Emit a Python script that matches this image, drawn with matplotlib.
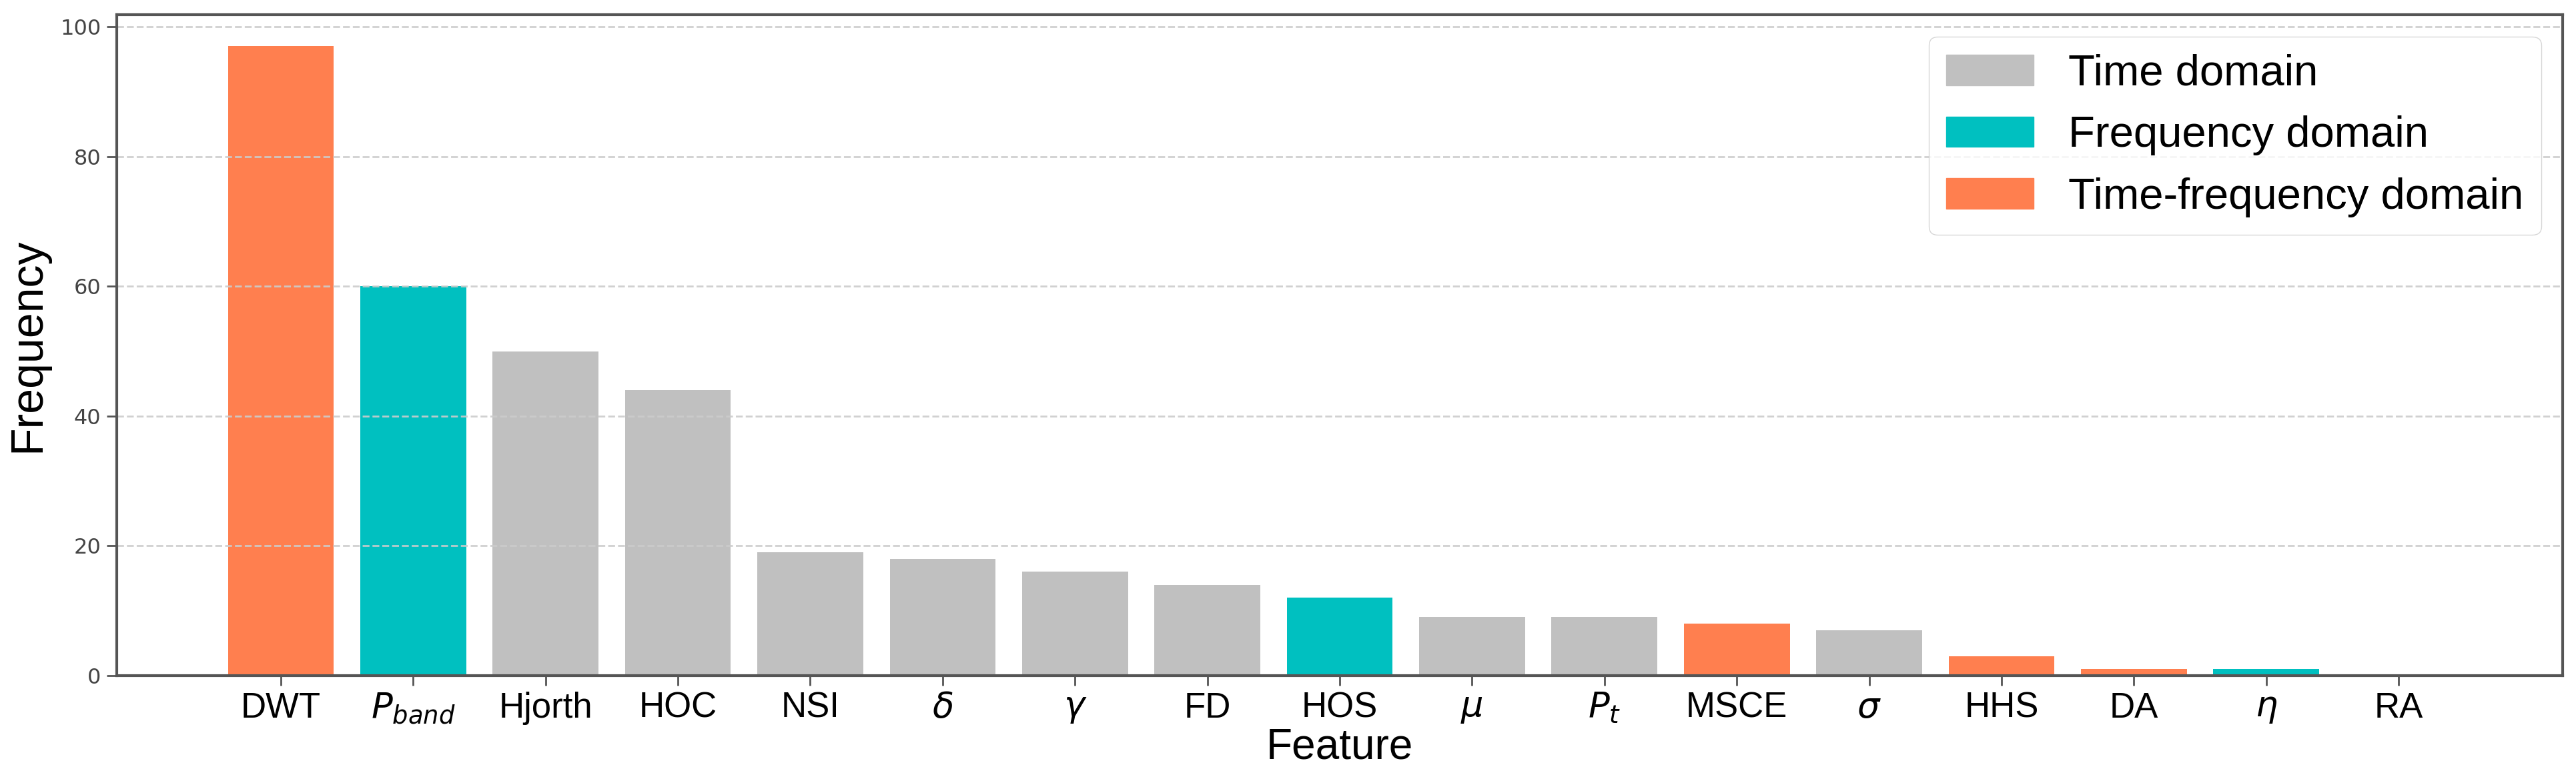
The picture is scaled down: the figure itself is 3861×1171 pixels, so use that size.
import matplotlib
matplotlib.use("Agg")
import matplotlib.pyplot as plt
from matplotlib.patches import Patch

features = ['DWT', r'$P_{band}$', 'Hjorth', 'HOC', 'NSI', r'$\delta$', r'$\gamma$',
            'FD', 'HOS', r'$\mu$', r'$P_t$', 'MSCE', r'$\sigma$', 'HHS', 'DA',
            r'$\eta$', 'RA']
counts = [97, 60, 50, 44, 19, 18, 16, 14, 12, 9, 9, 8, 7, 3, 1, 1, 0]
domains = ['tf', 'f', 't', 't', 't', 't', 't', 't', 'f', 't', 't', 'tf', 't',
           'tf', 'tf', 'f', 't']

domain_colors = {'t': '#c0c0c0', 'f': '#00c0c0', 'tf': '#ff7f4f'}
domain_names = {'t': 'Time domain', 'f': 'Frequency domain',
                'tf': 'Time-frequency domain'}

fig = plt.figure(figsize=(38.62, 11.71), dpi=100)
ax = fig.add_axes([0.0453, 0.1349, 0.9493, 0.8463])

x = list(range(len(features)))
ax.bar(x, counts, width=0.8, color=[domain_colors[d] for d in domains])

ax.set_xticks(x)
ax.set_xticklabels(features, fontsize=38, family='Liberation Sans')
ax.tick_params(axis='x', length=11, width=2, pad=6, color='#555555')
ax.tick_params(axis='y', labelsize=23, length=11, width=2, color='#555555',
               labelcolor='#444444', pad=6)
ax.set_yticks([0, 20, 40, 60, 80, 100])

ax.set_xlabel('Feature', fontsize=46, family='Liberation Sans', labelpad=2)
ax.set_ylabel('Frequency', fontsize=49, family='Liberation Sans', labelpad=12)

for s in ax.spines.values():
    s.set_linewidth(3)
    s.set_color('#555555')

ax.grid(axis='y', linestyle='--', linewidth=2, color='#cccccc', alpha=0.9)

handles = [Patch(color=domain_colors[k], label=domain_names[k]) for k in ['t', 'f', 'tf']]
ax.legend(handles=handles, loc='upper right', labelspacing=0.5,
          prop={'family': 'Liberation Sans', 'size': 47}, framealpha=0.8)

fig.savefig('out.png', dpi=100, facecolor='white')
